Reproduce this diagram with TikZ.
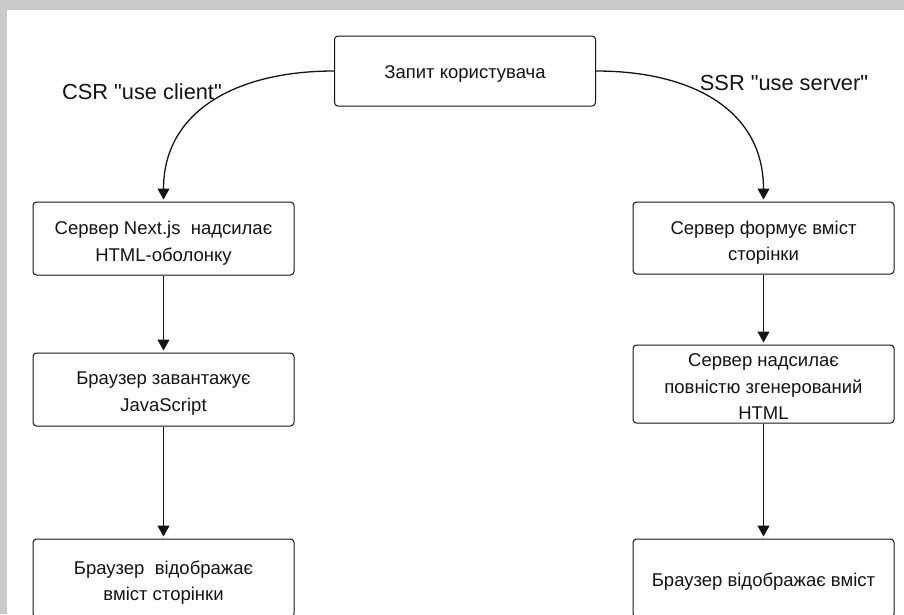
\documentclass[tikz,border=0pt]{standalone}
\usepackage{fontspec}
\setmainfont{Liberation Sans}
\usetikzlibrary{arrows.meta}
\definecolor{framegray}{RGB}{201,202,204}
\definecolor{ink}{RGB}{20,20,20}
\newcommand{\dq}{\XeTeXglyph\XeTeXcharglyph"22\relax}
\begin{document}
\begin{tikzpicture}[x=1pt,y=-1pt,
  box/.style={draw=ink, line width=1pt, rounded corners=3.5pt, minimum width=261pt, inner sep=0pt},
  txt/.style={align=center, font=\fontsize{18.5}{26.5}\selectfont, inner sep=0pt, text=ink},
  conn/.style={draw=ink, line width=1.3pt, -{Triangle[width=12pt,length=11pt]}, shorten >=2pt},
  lbl/.style={font=\fontsize{21.8}{24}\selectfont, text=ink, inner sep=0pt}]
\useasboundingbox (0,0) rectangle (904,614);
\clip (0,0) rectangle (904,614);
\fill[framegray] (0,0) rectangle (904,614);
\fill[white] (7,10) rectangle (904,614);

\node[box, minimum height=70pt] (top) at (465,71) {};
\node[txt] (topt) at ([yshift=-3pt]top.center) {Запит користувача};

\node[box, minimum height=73pt] (l1) at (163.5,238.5) {};
\node[txt] (l1t) at ([yshift=-4.5pt]l1.center) {Сервер Next.js\ \ надсилає\\HTML-оболонку};
\node[box, minimum height=73pt] (l2) at (163.5,389.5) {};
\node[txt] (l2t) at ([yshift=-4pt]l2.center) {Браузер завантажує\\JavaScript};
\node[box, minimum height=78pt] (l3) at (163.5,578) {};
\node[txt] (l3t) at ([yshift=-4.5pt]l3.center) {Браузер\ \ відображає\\вміст сторінки};

\node[box, minimum height=72pt] (r1) at (763.5,238) {};
\node[txt] (r1t) at ([yshift=-4.5pt]r1.center) {Сервер формує вміст\\сторінки};
\node[box, minimum height=78pt] (r2) at (763.5,384) {};
\node[txt] (r2t) at ([yshift=-3pt]r2.center) {Сервер надсилає\\повністю згенерований\\HTML};
\node[box, minimum height=78pt] (r3) at (763.5,578) {};
\node[txt] (r3t) at ([yshift=-4pt]r3.center) {Браузер відображає вміст};

\node[lbl] (csr) at (142,92) {CSR \dq use client\dq};
\node[lbl] (ssr) at (784,83) {SSR \dq use server\dq};

\draw[conn] (top.west) .. controls (235,71) and (163.5,112) .. (l1.north);
\draw[conn] (top.east) .. controls (692,71) and (763.5,110) .. (r1.north);
\draw[conn] (l1.south) -- (l2.north);
\draw[conn] (l2.south) -- (l3.north);
\draw[conn] (r1.south) -- (r2.north);
\draw[conn] (r2.south) -- (r3.north);
\end{tikzpicture}
\end{document}
